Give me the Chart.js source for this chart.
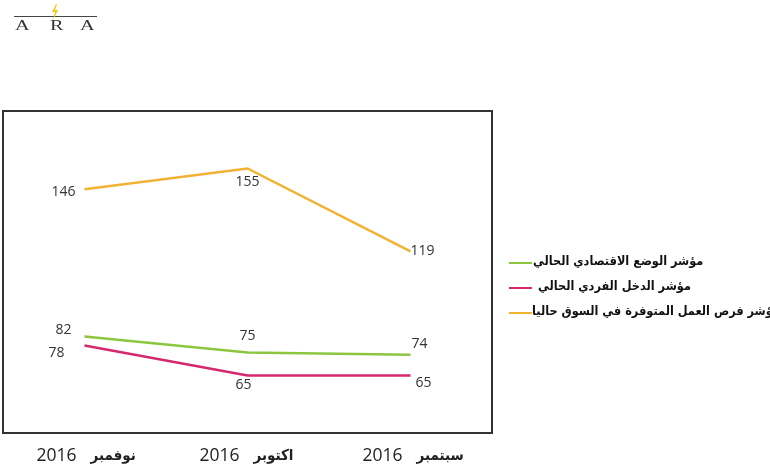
<!DOCTYPE html>
<html>
<head>
<meta charset="utf-8">
<script src="https://cdn.jsdelivr.net/npm/chart.js@4/dist/chart.umd.min.js"></script>
<style>
  html, body { margin: 0; padding: 0; background: #fff; }
  #wrap { position: relative; width: 770px; height: 474px; }
  #logo { position: absolute; left: 0; top: 0; width: 110px; height: 36px; }
  #logo .bar { position: absolute; left: 14px; top: 16px; width: 83px; height: 1px; background: #444; }
  #logo span { position: absolute; top: 17px; font: 15px "Liberation Serif", serif; color: #333; transform: scaleX(1.35); transform-origin: left top; }
</style>
</head>
<body>
<div id="wrap">
  <canvas id="chart" width="770" height="474" dir="rtl"></canvas>
  <div id="logo">
    <div class="bar"></div>
    <svg style="position:absolute;left:50px;top:4px" width="10" height="16" viewBox="0 0 10 16">
      <path d="M6 0 L2 8 L5 8 L3 16 L8 6 L5 6 L7 0 Z" fill="#f2c811"/>
    </svg>
    <span style="left:15px">A</span>
    <span style="left:50px">R</span>
    <span style="left:80px">A</span>
  </div>
</div>
<script>
(function () {
    'use strict';

    // Data
    var months = ['نوفمبر', 'اكتوبر', 'سبتمبر'];
    var years  = ['2016', '2016', '2016'];

    var seriesNames = [
        'مؤشر الوضع الاقتصادي الحالي',
        'مؤشر الدخل الفردي الحالي',
        'مؤشر فرص العمل المتوفرة في السوق حاليا'
    ];
    var economyValues = [82, 75, 74];
    var incomeValues  = [78, 65, 65];
    var jobsValues    = [146, 155, 119];

    // Styles
    var colors = ['#8cc63f', '#d6286f', '#f2b233'];

    // value label offsets from each point [dx, dy]
    var labelOffsets = [
        [[-21, -6], [0, -16], [9, -11]],
        [[-28, 7],  [-4, 10], [13, 8]],
        [[-21, 3],  [0, 14],  [12, 0]]
    ];

    // legend rows: [line y, text x]
    var legendRows = [[263, 533], [288, 538], [313, 532]];

    var labels = [];
    for (var i = 0; i < months.length; i++) {
        labels.push(months[i] + ' ' + years[i]);
    }

    var seriesValues = [economyValues, incomeValues, jobsValues];
    var datasets = [];
    for (var s = 0; s < seriesValues.length; s++) {
        datasets.push({
            label: seriesNames[s],
            data: seriesValues[s],
            borderColor: colors[s],
            backgroundColor: colors[s],
            borderWidth: 2.5,
            pointRadius: 0,
            tension: 0
        });
    }

    // frame, value labels, category labels and legend
    var decor = {
        id: 'decor',
        afterDatasetsDraw: function (chart) {
            var ctx = chart.ctx;
            var a = chart.chartArea;
            ctx.save();
            ctx.strokeStyle = '#333';
            ctx.lineWidth = 2;
            ctx.strokeRect(a.left, a.top, a.right - a.left, a.bottom - a.top);

            ctx.fillStyle = '#333';
            ctx.font = '14px "Open Sans", "Liberation Sans", sans-serif';
            ctx.textAlign = 'center';
            ctx.textBaseline = 'middle';
            chart.data.datasets.forEach(function (ds, di) {
                var meta = chart.getDatasetMeta(di);
                meta.data.forEach(function (pt, pi) {
                    var off = labelOffsets[di][pi];
                    ctx.fillText(String(ds.data[pi]), pt.x + off[0], pt.y + off[1]);
                });
            });

            // category labels: year on the left, month (bold) on the right
            var xs = chart.scales.x;
            var ly = a.bottom + 23;
            ctx.fillStyle = '#222';
            months.forEach(function (m, mi) {
                var cx = xs.getPixelForValue(mi);
                ctx.textAlign = 'right';
                ctx.font = '17.5px "Open Sans", "Liberation Sans", sans-serif';
                ctx.fillText(years[mi], cx - 8, ly);
                ctx.textAlign = 'left';
                ctx.font = 'bold 15px "DejaVu Sans Condensed", "DejaVu Sans", sans-serif';
                ctx.fillText(m, cx + 6, ly);
            });

            // legend
            ctx.font = 'bold 12.6px "DejaVu Sans Condensed", "DejaVu Sans", sans-serif';
            ctx.textAlign = 'left';
            chart.data.datasets.forEach(function (ds, di) {
                var y = legendRows[di][0];
                ctx.strokeStyle = ds.borderColor;
                ctx.lineWidth = 2;
                ctx.beginPath();
                ctx.moveTo(509, y);
                ctx.lineTo(532, y);
                ctx.stroke();
                ctx.fillStyle = '#111';
                ctx.fillText(ds.label, legendRows[di][1], y - 1);
            });
            ctx.restore();
        }
    };

    new Chart(document.getElementById('chart'), {
        type: 'line',
        data: { labels: labels, datasets: datasets },
        options: {
            responsive: false,
            animation: false,
            layout: { padding: { left: 3, top: 111, right: 278, bottom: 41 } },
            plugins: {
                legend: { display: false },
                tooltip: { enabled: false }
            },
            scales: {
                x: {
                    offset: true,
                    grid: { display: false, drawTicks: false },
                    border: { display: false },
                    ticks: { display: false }
                },
                y: {
                    display: false,
                    min: 40,
                    max: 180
                }
            }
        },
        plugins: [decor]
    });
}());
</script>
</body>
</html>
